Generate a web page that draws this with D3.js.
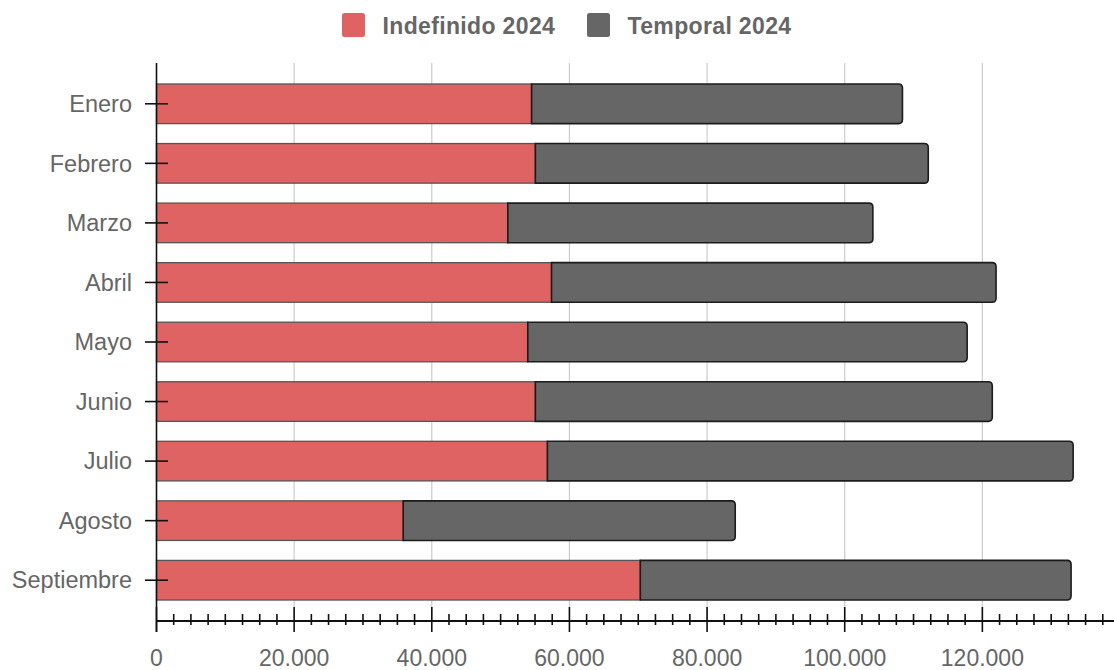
<!DOCTYPE html>
<html>
  <head>
    <style>
      body {
        margin: 0;
        background: #fff;
        font-family: "Liberation Sans", Arial, sans-serif;
      }
    </style>
  </head>
<body>
  <div id="chart"></div>

  <script src="https://cdnjs.cloudflare.com/ajax/libs/d3/7.8.5/d3.min.js"></script>
  <script>

    // data
    var months = ["Enero", "Febrero", "Marzo", "Abril", "Mayo", "Junio", "Julio", "Agosto", "Septiembre"];
    var indefinido = [54500, 55050, 51050, 57400, 53950, 55050, 56800, 35850, 70300];
    var temporal = [54000, 57200, 53150, 64700, 63950, 66500, 76500, 48350, 62700];
    var seriesNames = ["Indefinido 2024", "Temporal 2024"];
    var seriesColors = ["#e06363", "#666666"];
    var majorTicks = [0, 20000, 40000, 60000, 80000, 100000, 120000];

    var width = 1114, height = 670;
    var margin = {top: 63, right: -6, bottom: 49, left: 156.5};

    var fmt = function(v) { return d3.format(",")(v).replace(/,/g, "."); };

    var svg = d3.select("#chart")
      .append("svg")
      .attr("width", width)
      .attr("height", height);

    var x = d3.scaleLinear()
      .domain([0, 140000])
      .range([margin.left, width - margin.right]);

    var y = d3.scaleBand()
      .domain(months)
      .range([margin.top, height - margin.bottom])
      .paddingInner(0.31)
      .paddingOuter(0.34);

    var axisY = height - margin.bottom;

    // grid
    svg.append("g")
      .selectAll("line")
      .data(majorTicks.filter(function(d) { return d > 0; }))
      .enter()
      .append("line")
        .attr("x1", function(d) { return x(d); })
        .attr("x2", function(d) { return x(d); })
        .attr("y1", margin.top)
        .attr("y2", axisY)
        .style("stroke", "#cccccc")
        .style("stroke-width", 1.2);

    // stacked bars
    var rows = months.map(function(m, i) {
      return {month: m, a: indefinido[i], b: temporal[i]};
    });

    svg.append("g")
      .selectAll("rect")
      .data(rows)
      .enter()
      .append("rect")
        .attr("x", x(0))
        .attr("y", function(d) { return y(d.month) + 0.75; })
        .attr("width", function(d) { return x(d.a) - x(0); })
        .attr("height", y.bandwidth() - 1.5)
        .style("fill", seriesColors[0])
        .style("stroke", "#555")
        .style("stroke-width", 1.3);

    // right end rounded
    function roundRight(x0, y0, w, h, r) {
      return "M" + x0 + "," + y0 +
        "H" + (x0 + w - r) +
        "Q" + (x0 + w) + "," + y0 + " " + (x0 + w) + "," + (y0 + r) +
        "V" + (y0 + h - r) +
        "Q" + (x0 + w) + "," + (y0 + h) + " " + (x0 + w - r) + "," + (y0 + h) +
        "H" + x0 + "Z";
    }

    svg.append("g")
      .selectAll("path")
      .data(rows)
      .enter()
      .append("path")
        .attr("d", function(d) {
          var x0 = x(d.a), x1 = x(d.a + d.b);
          return roundRight(x0, y(d.month) + 0.75, x1 - x0 - 0.75, y.bandwidth() - 1.5, 4);
        })
        .style("fill", seriesColors[1])
        .style("stroke", "#1c1c1c")
        .style("stroke-width", 1.6);

    // left axis
    svg.append("line")
      .attr("x1", x(0)).attr("x2", x(0))
      .attr("y1", margin.top).attr("y2", axisY + 11)
      .style("stroke", "#111").style("stroke-width", 1.6);

    var yTicks = svg.append("g")
      .selectAll("g")
      .data(months)
      .enter()
      .append("g")
        .attr("transform", function(d) { return "translate(0," + (y(d) + y.bandwidth() / 2) + ")"; });

    yTicks.append("line")
      .attr("x1", x(0) - 11.5).attr("x2", x(0) + 11.5)
      .style("stroke", "#111").style("stroke-width", 1.6);

    yTicks.append("text")
      .attr("x", 132)
      .attr("dy", "0.35em")
      .style("text-anchor", "end")
      .style("font-size", "23.5px")
      .style("fill", "#666")
      .text(function(d) { return d; });

    // bottom axis
    svg.append("line")
      .attr("x1", x(0)).attr("x2", width)
      .attr("y1", axisY).attr("y2", axisY)
      .style("stroke", "#111").style("stroke-width", 1.8);

    var minorTicks = d3.range(0, 140001, 2500).filter(function(d) { return d % 20000 !== 0; });

    svg.append("g")
      .selectAll("line")
      .data(minorTicks)
      .enter()
      .append("line")
        .attr("x1", function(d) { return x(d); })
        .attr("x2", function(d) { return x(d); })
        .attr("y1", axisY - 7)
        .attr("y2", axisY + 4)
        .style("stroke", "#111").style("stroke-width", 1.6);

    var xTicks = svg.append("g")
      .selectAll("g")
      .data(majorTicks)
      .enter()
      .append("g")
        .attr("transform", function(d) { return "translate(" + x(d) + ",0)"; });

    xTicks.append("line")
      .attr("y1", axisY - 14)
      .attr("y2", axisY + 11)
      .style("stroke", "#111").style("stroke-width", 1.6);

    xTicks.append("text")
      .attr("y", 666)
      .style("text-anchor", "middle")
      .style("font-size", "23px")
      .style("fill", "#666")
      .text(function(d) { return fmt(d); });

    // legend
    var legendX = [342, 587];
    var legend = svg.append("g")
      .selectAll("g")
      .data(seriesNames)
      .enter()
      .append("g")
        .attr("transform", function(d, i) { return "translate(" + legendX[i] + ",13)"; });

    legend.append("rect")
      .attr("width", 23)
      .attr("height", 24)
      .attr("rx", 2.5)
      .style("fill", function(d, i) { return seriesColors[i]; });

    legend.append("text")
      .attr("x", 40.5)
      .attr("y", 20.5)
      .style("font-size", "23px")
      .style("font-weight", "bold")
      .style("letter-spacing", "0.35px")
      .style("fill", "#666")
      .text(function(d) { return d; });

  </script>
</body>
</html>
